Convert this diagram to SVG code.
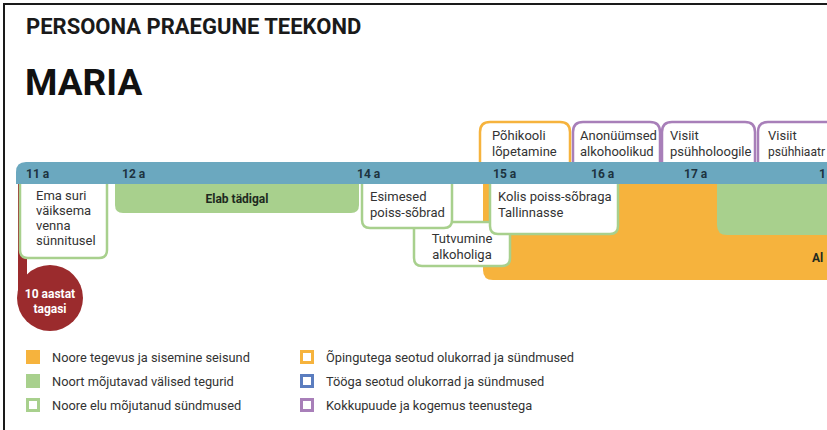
<svg xmlns="http://www.w3.org/2000/svg" width="827" height="430" viewBox="0 0 827 430">
<style>
text{font-family:Roboto,"Liberation Sans",sans-serif;}
.t{font-size:13px;fill:#333;}
.tc{font-size:13px;fill:#333;text-anchor:middle;}
.age{font-size:12px;font-weight:700;fill:#1d3340;}
.b{font-size:12px;font-weight:700;fill:#1e2a20;}
.ev{fill:#fff;stroke:#a8d08d;stroke-width:2.5;}
.edu{fill:#fff;stroke:#f6b33d;stroke-width:2.5;}
.svc{fill:#fff;stroke:#a87fb9;stroke-width:2.5;}
.lg{font-size:12.8px;fill:#333;}
</style>
<rect x="0" y="0" width="827" height="430" fill="#fff"/>
<path d="M4 430 V4 H827" fill="none" stroke="#1a1a1a" stroke-width="2"/>
<text x="26" y="34" font-size="22" font-weight="700" fill="#1a1a1a">PERSOONA PRAEGUNE TEEKOND</text>
<text x="25" y="95" font-size="37" font-weight="700" fill="#111">MARIA</text>

<g id="background-bands">
  <path d="M483 184 H827 V280 H493 Q483 280 483 270 Z" fill="#f6b33d"/>
  <path d="M717 184 H827 V235 H727 Q717 235 717 225 Z" fill="#a8d08d"/>
  <text class="b" x="812" y="262">Al</text>
</g>

<g id="top-events">
  <g id="pohikool"><path class="edu" d="M480 163 V132 Q480 122 490 122 H560 Q570 122 570 132 V163"/>
    <text class="t" x="492" y="140">Põhikooli</text><text class="t" x="492" y="156">lõpetamine</text></g>
  <g id="anonuumsed"><path class="svc" d="M573 163 V132 Q573 122 583 122 H650 Q660 122 660 132 V163"/>
    <text class="t" x="580" y="140">Anonüümsed</text><text class="t" x="580" y="156">alkohoolikud</text></g>
  <g id="psuhholoog"><path class="svc" d="M662 163 V132 Q662 122 672 122 H745 Q755 122 755 132 V163"/>
    <text class="t" x="670" y="140">Visiit</text><text class="t" x="670" y="156">psühholoogile</text></g>
  <g id="psuhhiaater"><path class="svc" d="M758 163 V132 Q758 122 768 122 H840 V163"/>
    <text class="t" x="768" y="140">Visiit</text><text class="t" x="768" y="156" textLength="57" lengthAdjust="spacingAndGlyphs">psühhiaatr</text></g>
</g>

<g id="past-marker">
  <rect x="18" y="180" width="9" height="118" fill="#9b2b2d"/>
  <circle cx="50" cy="298" r="33" fill="#9b2b2d"/>
  <text x="50" y="298" font-size="12" font-weight="700" fill="#fff" text-anchor="middle">10 aastat</text>
  <text x="50" y="313" font-size="12" font-weight="700" fill="#fff" text-anchor="middle">tagasi</text>
</g>

<g id="timeline">
  <path d="M16 184 V172 Q16 162 26 162 H827 V184 Z" fill="#6ba8bf"/>
  <text class="age" x="26" y="178">11 a</text>
  <text class="age" x="122" y="178">12 a</text>
  <text class="age" x="357" y="178">14 a</text>
  <text class="age" x="493" y="178">15 a</text>
  <text class="age" x="591" y="178">16 a</text>
  <text class="age" x="684" y="178">17 a</text>
  <text class="age" x="819" y="178">1</text>
</g>

<g id="elab-tadigal">
  <path d="M115 184 H359 V205 Q359 213 351 213 H123 Q115 213 115 205 Z" fill="#a8d08d"/>
  <text class="b" x="237" y="203" text-anchor="middle">Elab tädigal</text>
</g>

<g id="ema-suri">
  <path class="ev" d="M20 184 V250 Q20 258 28 258 H99 Q107 258 107 250 V184"/>
  <text class="t" x="36" y="200">Ema suri</text>
  <text class="t" x="36" y="215">väiksema</text>
  <text class="t" x="36" y="230">venna</text>
  <text class="t" x="36" y="245">sünnitusel</text>
</g>

<g id="tutvumine">
  <path class="ev" d="M414 222 V258 Q414 266 422 266 H502 Q510 266 510 258 V222 Z"/>
  <text class="tc" x="462" y="243">Tutvumine</text>
  <text class="tc" x="462" y="259">alkoholiga</text>
</g>

<g id="esimesed">
  <path class="ev" d="M362 184 V220 Q362 228 370 228 H444 Q452 228 452 220 V184"/>
  <text class="t" x="370" y="201">Esimesed</text>
  <text class="t" x="370" y="217">poiss-sõbrad</text>
</g>

<g id="kolis">
  <path class="ev" d="M490 184 V226 Q490 234 498 234 H610 Q618 234 618 226 V184"/>
  <text class="t" x="498" y="201">Kolis poiss-sõbraga</text>
  <text class="t" x="498" y="217">Tallinnasse</text>
</g>

<g id="legend">
  <rect x="26" y="350" width="14" height="14" fill="#f6b33d"/>
  <text class="lg" x="52" y="362">Noore tegevus ja sisemine seisund</text>
  <rect x="26" y="374" width="14" height="14" fill="#a8d08d"/>
  <text class="lg" x="52" y="386">Noort mõjutavad välised tegurid</text>
  <rect x="27.5" y="399.5" width="11" height="11" fill="#fff" stroke="#a8d08d" stroke-width="3"/>
  <text class="lg" x="52" y="410">Noore elu mõjutanud sündmused</text>
  <rect x="301.5" y="351.5" width="11" height="11" fill="#fff" stroke="#f6b33d" stroke-width="3"/>
  <text class="lg" x="326" y="362">Õpingutega seotud olukorrad ja sündmused</text>
  <rect x="301.5" y="375.5" width="11" height="11" fill="#fff" stroke="#5b7dbf" stroke-width="3"/>
  <text class="lg" x="326" y="386">Tööga seotud olukorrad ja sündmused</text>
  <rect x="301.5" y="399.5" width="11" height="11" fill="#fff" stroke="#a87fb9" stroke-width="3"/>
  <text class="lg" x="326" y="410">Kokkupuude ja kogemus teenustega</text>
</g>
</svg>
